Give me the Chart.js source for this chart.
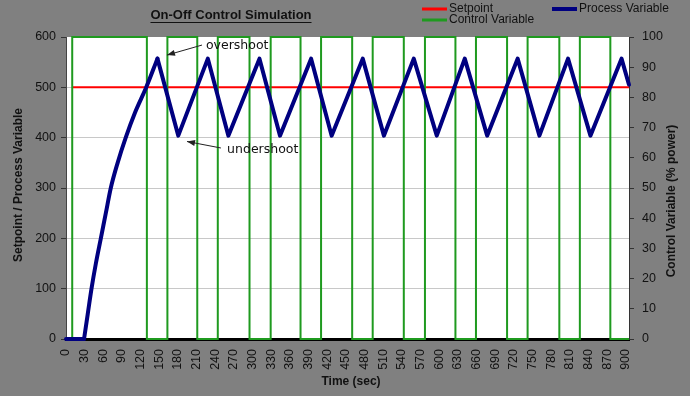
<!DOCTYPE html>
<html><head><meta charset="utf-8">
<script src="https://cdn.jsdelivr.net/npm/chart.js@4.4.1/dist/chart.umd.min.js"></script>
<style>html,body{margin:0;padding:0;background:#808080;}canvas{display:block}</style>
</head><body>
<canvas id="c" width="690" height="396"></canvas>
<script>
// ---- text ----
const chartTitle = 'On-Off Control Simulation';
const seriesNames = ['Setpoint', 'Control Variable', 'Process Variable'];
const xAxisTitle = 'Time (sec)';
const yLeftTitle = 'Setpoint / Process Variable';
const yRightTitle = 'Control Variable (% power)';

// ---- data (time in sec) ----
const pvTime  = [0, 29, 35, 41, 48, 56, 64, 72, 83, 96, 111, 129, 147,
                 180.5, 228, 261, 311, 344, 394, 427, 477, 511, 559, 596, 641, 677, 726, 761, 807, 843, 893, 905];
const pvValue = [0, 0, 50, 100, 150, 200, 250, 300, 350, 400, 450, 500, 557,
                 404, 557, 404, 557, 404, 557, 404, 557, 404, 557, 404, 557, 404, 557, 404, 557, 404, 557, 505];
const pvRiseStart = 1;   // index where the initial warm-up curve begins
const pvRiseEnd = 12;    // index of the first overshoot peak

const cvSwitchTime = [0, 10, 130, 163, 211, 244, 295, 329, 377, 410, 460, 493, 543, 577, 626, 659, 709, 742, 793, 826, 875, 905];
const cvLevel      = [0, 100, 0, 100, 0, 100, 0, 100, 0, 100, 0, 100, 0, 100, 0, 100, 0, 100, 0, 100, 0, 0];

const spTime  = [10, 905];
const spValue = [500, 500];

const xTickStep = 30;
const leftTickStep = 100;
const rightTickStep = 10;

const annotations = [
  {text: 'overshoot',  textAt: [225, 582],   from: [218.6, 584],   to: [162.3, 564]},
  {text: 'undershoot', textAt: [259, 375.5], from: [249, 379.5],   to: [194.5, 392.4]}
];

const toXY = (xs, ys) => xs.map((x, i) => ({x, y: ys[i]}));
const pvAll = toXY(pvTime, pvValue);
const pvRise = pvAll.slice(pvRiseStart, pvRiseEnd + 1);
const pvRest = pvAll.slice(0, pvRiseStart + 1).concat([{x: NaN, y: NaN}], pvAll.slice(pvRiseEnd));

const decor = {
  id: 'decor',
  beforeDraw(chart) {
    const {ctx, chartArea: a} = chart;
    ctx.save();
    ctx.fillStyle = '#808080';
    ctx.fillRect(0, 0, chart.width, chart.height);
    ctx.fillStyle = '#ffffff';
    ctx.fillRect(a.left, a.top, a.right - a.left, a.bottom - a.top);
    ctx.restore();
  },
  afterDraw(chart) {
    const {ctx} = chart;
    const xs = chart.scales.x, ys = chart.scales.y;
    ctx.save();
    // title
    ctx.fillStyle = '#111';
    ctx.font = 'bold 13px "Liberation Sans", Arial, sans-serif';
    ctx.textAlign = 'center';
    ctx.textBaseline = 'middle';
    const tw = ctx.measureText(chartTitle).width;
    ctx.fillText(chartTitle, 231, 15);
    ctx.strokeStyle = '#111';
    ctx.lineWidth = 1;
    ctx.beginPath();
    ctx.moveTo(231 - tw / 2, 22.5); ctx.lineTo(231 + tw / 2, 22.5);
    ctx.stroke();

    // legend
    ctx.font = '12px "Liberation Sans", Arial, sans-serif';
    ctx.textAlign = 'left';
    const leg = [
      {name: seriesNames[0], color: '#ff0000', w: 3, x: 422, y: 9},
      {name: seriesNames[1], color: '#1f9a1f', w: 3, x: 422, y: 20},
      {name: seriesNames[2], color: '#000080', w: 4, x: 552, y: 9}
    ];
    leg.forEach(l => {
      ctx.strokeStyle = l.color; ctx.lineWidth = l.w;
      ctx.beginPath(); ctx.moveTo(l.x, l.y); ctx.lineTo(l.x + 25, l.y); ctx.stroke();
      ctx.fillStyle = '#111';
      ctx.fillText(l.name, l.x + 27, l.y);
    });

    // axis titles
    ctx.font = 'bold 12px "Liberation Sans", Arial, sans-serif';
    ctx.textAlign = 'center';
    ctx.fillText(xAxisTitle, 351, 382);
    ctx.save(); ctx.translate(19, 185); ctx.rotate(-Math.PI / 2); ctx.fillText(yLeftTitle, 0, 0); ctx.restore();
    ctx.save(); ctx.translate(672, 201); ctx.rotate(-Math.PI / 2); ctx.fillText(yRightTitle, 0, 0); ctx.restore();

    // annotations
    ctx.font = '12.5px "DejaVu Sans", Verdana, sans-serif';
    ctx.textAlign = 'left';
    annotations.forEach(an => {
      const tx = xs.getPixelForValue(an.textAt[0]), ty = ys.getPixelForValue(an.textAt[1]);
      ctx.fillStyle = '#111';
      ctx.fillText(an.text, tx, ty);
      const x1 = xs.getPixelForValue(an.from[0]), y1 = ys.getPixelForValue(an.from[1]);
      const x2 = xs.getPixelForValue(an.to[0]), y2 = ys.getPixelForValue(an.to[1]);
      ctx.strokeStyle = '#222'; ctx.lineWidth = 1;
      ctx.beginPath(); ctx.moveTo(x1, y1); ctx.lineTo(x2, y2); ctx.stroke();
      const ang = Math.atan2(y2 - y1, x2 - x1), L = 8, W = 3;
      ctx.beginPath();
      ctx.moveTo(x2, y2);
      ctx.lineTo(x2 - L * Math.cos(ang) + W * Math.sin(ang), y2 - L * Math.sin(ang) - W * Math.cos(ang));
      ctx.lineTo(x2 - L * Math.cos(ang) - W * Math.sin(ang), y2 - L * Math.sin(ang) + W * Math.cos(ang));
      ctx.closePath();
      ctx.fillStyle = '#222'; ctx.fill();
    });
    ctx.restore();
  }
};

const tickFont = {family: '"Liberation Sans", Arial, sans-serif', size: 12.5};

new Chart(document.getElementById('c'), {
  type: 'line',
  data: {
    datasets: [
      {label: seriesNames[2], data: pvRise, yAxisID: 'y', borderColor: '#000080', borderWidth: 4,
       cubicInterpolationMode: 'monotone', borderCapStyle: 'round', pointRadius: 0, clip: false},
      {label: seriesNames[2], data: pvRest, yAxisID: 'y', borderColor: '#000080', borderWidth: 4,
       borderJoinStyle: 'round', borderCapStyle: 'round', pointRadius: 0, tension: 0, spanGaps: false, clip: false},
      {label: seriesNames[1], data: toXY(cvSwitchTime, cvLevel), yAxisID: 'y2', borderColor: '#1f9a1f', borderWidth: 2,
       stepped: 'before', pointRadius: 0, clip: false},
      {label: seriesNames[0], data: toXY(spTime, spValue), yAxisID: 'y', borderColor: '#ff0000', borderWidth: 2,
       pointRadius: 0, clip: false}
    ]
  },
  options: {
    responsive: false, animation: false, devicePixelRatio: 1,
    layout: {padding: {top: 37, left: 0, right: 0, bottom: 0}},
    plugins: {legend: {display: false}, title: {display: false}, tooltip: {enabled: false}},
    scales: {
      x: {
        type: 'linear', min: 0, max: 905,
        afterFit(s) { s.height = 57; },
        grid: {display: false, drawTicks: false},
        border: {display: true, color: '#000', width: 3},
        ticks: {stepSize: xTickStep, includeBounds: false, autoSkip: false, minRotation: 90, maxRotation: 90,
                padding: 10, color: '#111', font: tickFont}
      },
      y: {
        position: 'left', min: 0, max: 600,
        afterFit(s) { s.width = 66; },
        grid: {color: c => (c.tick && (c.tick.value === 600 || c.tick.value === 0)) ? 'rgba(0,0,0,0)' : '#c8c8c8',
               tickColor: '#333', tickLength: 5},
        border: {color: '#444', width: 1},
        ticks: {stepSize: leftTickStep, padding: 5, color: '#111', font: tickFont}
      },
      y2: {
        position: 'right', min: 0, max: 100,
        afterFit(s) { s.width = 61; },
        grid: {drawOnChartArea: false, color: '#333', tickLength: 5},
        border: {color: '#333', width: 1},
        ticks: {stepSize: rightTickStep, padding: 8, color: '#111', font: tickFont}
      }
    }
  },
  plugins: [decor]
});
</script>
</body></html>
